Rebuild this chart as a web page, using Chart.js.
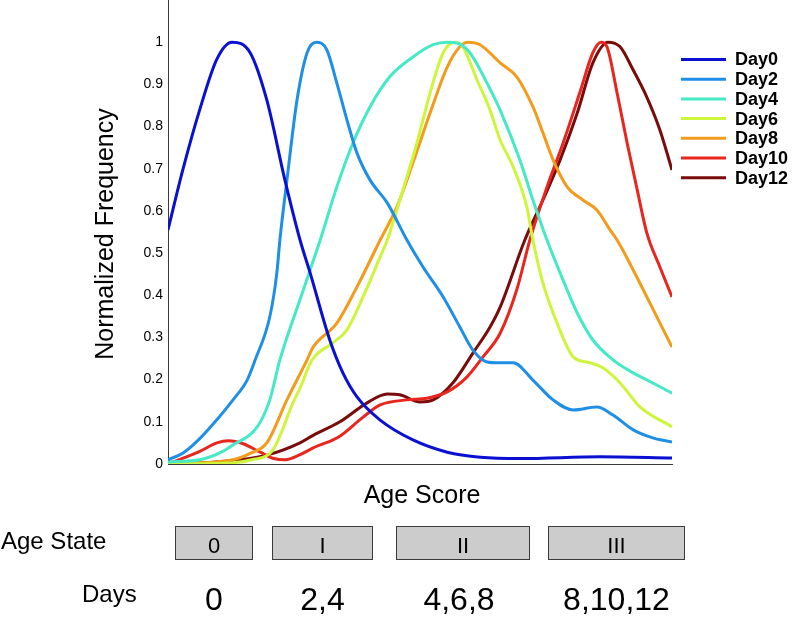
<!DOCTYPE html>
<html>
<head>
<meta charset="utf-8">
<title>Age score distributions</title>
<script src="https://cdn.jsdelivr.net/npm/chart.js@4.4.1/dist/chart.umd.min.js"></script>
<style>
  html, body { margin: 0; padding: 0; background: #fff; }
  #wrap { position: relative; width: 795px; height: 617px; }
</style>
</head>
<body>
<div id="wrap"><canvas id="ageChart" width="795" height="617"></canvas></div>
<script>
// series (age score 0..100, normalized frequency)
const day0X = [0, 3, 6.3, 9.7, 12.7, 16.3, 19.6, 23.2, 26.2, 28.2, 32.1, 34.7, 37.5, 42.1, 48.6, 55.4, 62, 70, 85.7, 100];
const day0Y = [0.555, 0.70, 0.84, 0.96, 1.0, 0.975, 0.863, 0.673, 0.531, 0.453, 0.294, 0.216, 0.159, 0.104, 0.057, 0.028, 0.016, 0.013, 0.017, 0.014];

const day2X = [0, 3, 6.3, 9.7, 12.9, 15.7, 17.3, 20.2, 21.6, 22.2, 23.6, 25.6, 27.6, 29.4, 31.5, 33.5, 35.5, 37.5, 40.1, 43.5, 47.4, 50.6, 54.6, 57.9, 60.5, 63.3, 65.9, 68.5, 72.4, 76.4, 80.4, 85.1, 88.3, 92.3, 96.2, 100];
const day2Y = [0.01, 0.026, 0.06, 0.105, 0.152, 0.199, 0.247, 0.349, 0.453, 0.531, 0.673, 0.863, 0.975, 1.0, 0.982, 0.903, 0.816, 0.737, 0.673, 0.619, 0.531, 0.467, 0.396, 0.325, 0.270, 0.242, 0.240, 0.240, 0.199, 0.152, 0.128, 0.135, 0.116, 0.081, 0.062, 0.052];

const day4X = [0, 6.3, 10.9, 12.9, 17.7, 20.2, 22.2, 26.2, 30.2, 33.5, 36.7, 40.1, 44.0, 48.6, 52.6, 55.4, 57.3, 59.9, 63.3, 65.9, 69.8, 72.4, 75.2, 77.8, 81.2, 84.3, 88.3, 92.3, 96.2, 100];
const day4Y = [0.005, 0.01, 0.03, 0.045, 0.088, 0.152, 0.247, 0.39, 0.531, 0.657, 0.761, 0.847, 0.918, 0.965, 0.994, 1.0, 0.998, 0.975, 0.903, 0.839, 0.721, 0.626, 0.531, 0.453, 0.358, 0.294, 0.247, 0.216, 0.192, 0.168];

const day6X = [0, 12.9, 16.6, 20.8, 24.8, 26.2, 28.6, 32.7, 35.5, 38.7, 42.1, 43.5, 46.0, 49.4, 52.0, 54.6, 56.9, 58.5, 61.3, 63.9, 65.9, 68.5, 71.2, 72.4, 74.4, 77.2, 80.4, 83.7, 86.3, 89.7, 93.7, 100];
const day6Y = [0, 0.003, 0.01, 0.033, 0.145, 0.18, 0.247, 0.287, 0.318, 0.396, 0.491, 0.531, 0.626, 0.761, 0.880, 0.975, 1.0, 0.989, 0.911, 0.839, 0.768, 0.704, 0.609, 0.531, 0.429, 0.334, 0.254, 0.240, 0.228, 0.192, 0.135, 0.088];

const day8X = [0, 12.9, 16.3, 19.6, 23.6, 27.6, 28.8, 33.5, 37.5, 42.1, 45.4, 48.6, 52.0, 55.4, 57.9, 59.5, 61.9, 65.9, 69.2, 72.4, 74.4, 76.4, 79.2, 82.3, 85.1, 87.7, 89.1, 92.3, 95.6, 100];
const day8Y = [0, 0.01, 0.025, 0.05, 0.152, 0.247, 0.277, 0.334, 0.420, 0.531, 0.609, 0.714, 0.832, 0.941, 0.989, 1.0, 0.994, 0.951, 0.918, 0.847, 0.785, 0.721, 0.657, 0.626, 0.602, 0.555, 0.531, 0.460, 0.382, 0.277];

const day10X = [0, 6.3, 9.7, 12.0, 14.9, 18.3, 21.0, 23.2, 26.2, 28.8, 34.1, 38.7, 42.1, 47.4, 51.4, 55.4, 59.3, 62.5, 65.9, 69.2, 71.8, 75.2, 78.4, 81.7, 84.3, 85.9, 87.1, 89.1, 91.1, 93.1, 95.0, 97.6, 100];
const day10Y = [0, 0.03, 0.05, 0.055, 0.048, 0.028, 0.013, 0.01, 0.022, 0.038, 0.066, 0.111, 0.140, 0.152, 0.156, 0.171, 0.206, 0.254, 0.310, 0.413, 0.531, 0.657, 0.761, 0.880, 0.975, 1.0, 0.989, 0.880, 0.761, 0.650, 0.548, 0.467, 0.396];

const day12X = [0, 9.7, 19.6, 26.2, 28.8, 34.1, 39.5, 43.5, 46.0, 50.0, 52.6, 56.5, 60.5, 63.9, 65.9, 70.8, 74.4, 77.8, 81.2, 84.3, 87.3, 89.7, 92.3, 95.0, 97.6, 100];
const day12Y = [0, 0.005, 0.021, 0.05, 0.068, 0.1, 0.145, 0.166, 0.164, 0.147, 0.152, 0.192, 0.263, 0.325, 0.372, 0.531, 0.626, 0.721, 0.832, 0.951, 1.0, 0.989, 0.934, 0.870, 0.792, 0.697];

const seriesNames = ['Day0', 'Day2', 'Day4', 'Day6', 'Day8', 'Day10', 'Day12'];
const seriesColors = ['#0a10d2', '#1f8fe6', '#46e9c6', '#cef53c', '#f29b1c', '#e8261e', '#7a0b0b'];

// age state bands below the axis (in age score units)
const stateLabels = ['0', 'I', 'II', 'III'];
const stateStart = [1.3, 20.7, 45.2, 75.3];
const stateEnd = [16.7, 40.5, 71.7, 102.4];
const stateDays = ['0', '2,4', '4,6,8', '8,10,12'];

const FONT = "'Liberation Sans', Arial, Helvetica, sans-serif";

function pts(xs, ys) {
    return xs.map((x, i) => ({ x: x, y: ys[i] }));
}

const allSeries = [
    pts(day0X, day0Y), pts(day2X, day2Y), pts(day4X, day4Y), pts(day6X, day6Y),
    pts(day8X, day8Y), pts(day10X, day10Y), pts(day12X, day12Y)
];

// legend on the right + the age state / days rows under the plot
const extrasPlugin = {
    id: 'extras',
    afterDraw(chart) {
        const ctx = chart.ctx;
        const xs = chart.scales.x;
        const area = chart.chartArea;
        ctx.save();

        // legend
        ctx.font = 'bold 18px ' + FONT;
        ctx.textBaseline = 'middle';
        ctx.textAlign = 'left';
        chart.data.datasets.forEach((ds, i) => {
            const y = 59.5 + i * 19.7;
            ctx.strokeStyle = ds.borderColor;
            ctx.lineWidth = 3;
            ctx.beginPath();
            ctx.moveTo(681, y);
            ctx.lineTo(726, y);
            ctx.stroke();
            ctx.fillStyle = '#000';
            ctx.fillText(ds.label, 735, y + 1);
        });

        // y title
        ctx.save();
        ctx.translate(113, (area.top + area.bottom) / 2 + 2);
        ctx.rotate(-Math.PI / 2);
        ctx.font = '25px ' + FONT;
        ctx.textAlign = 'center';
        ctx.textBaseline = 'alphabetic';
        ctx.fillText('Normalized Frequency', 0, 0);
        ctx.restore();

        // x title
        ctx.font = '25px ' + FONT;
        ctx.textAlign = 'center';
        ctx.textBaseline = 'alphabetic';
        ctx.fillStyle = '#000';
        ctx.fillText('Age Score', (area.left + area.right) / 2 + 2, 503);

        // row labels
        ctx.textAlign = 'left';
        ctx.font = '24px ' + FONT;
        ctx.fillText('Age State', 1, 549);
        ctx.fillText('Days', 82, 602);

        // state boxes
        stateLabels.forEach((lab, i) => {
            const x1 = Math.round(xs.getPixelForValue(stateStart[i])) + 0.5;
            const x2 = Math.round(xs.getPixelForValue(stateEnd[i])) + 0.5;
            ctx.fillStyle = '#cccccc';
            ctx.fillRect(x1, 526, x2 - x1, 33);
            ctx.strokeStyle = '#3a3a3a';
            ctx.lineWidth = 1;
            ctx.strokeRect(x1, 526.5, x2 - x1, 33);
            ctx.fillStyle = '#000';
            ctx.textAlign = 'center';
            ctx.font = '22px ' + FONT;
            ctx.fillText(lab, (x1 + x2) / 2, 553);
            ctx.font = '32px ' + FONT;
            ctx.fillText(stateDays[i], (x1 + x2) / 2 - (i === 2 ? 4 : 0), 610);
        });
        ctx.restore();
    }
};

new Chart(document.getElementById('ageChart'), {
    type: 'line',
    data: {
        datasets: allSeries.map((d, i) => ({
            label: seriesNames[i],
            data: d,
            borderColor: seriesColors[i],
            backgroundColor: seriesColors[i],
            borderWidth: 3,
            pointRadius: 0,
            fill: false,
            cubicInterpolationMode: 'monotone'
        }))
    },
    options: {
        responsive: false,
        devicePixelRatio: 1,
        animation: false,
        layout: { padding: { left: 0, top: 0, right: 123, bottom: 153 } },
        plugins: {
            legend: { display: false },
            tooltip: { enabled: false }
        },
        scales: {
            x: {
                type: 'linear',
                min: 0,
                max: 100,
                grid: { display: false, drawTicks: false },
                border: { display: true, color: '#3a3a3a', width: 1 },
                ticks: { display: false },
                afterFit: (scale) => {
                    scale.height = 0;
                    scale.paddingLeft = 0;
                    scale.paddingRight = 0;
                }
            },
            y: {
                min: 0,
                max: 1.1,
                grid: { display: false, drawTicks: false },
                border: { display: true, color: '#3a3a3a', width: 1 },
                ticks: {
                    stepSize: 0.1,
                    padding: 5,
                    color: '#000',
                    font: { family: FONT, size: 14 },
                    callback: (v) => String(Number(v.toFixed(1)))
                },
                afterBuildTicks: (scale) => {
                    scale.ticks = scale.ticks.filter(t => t.value <= 1.0001);
                },
                afterFit: (scale) => {
                    scale.width = 168;
                    scale.paddingTop = 0;
                    scale.paddingBottom = 0;
                }
            }
        }
    },
    plugins: [extrasPlugin]
});
</script>
</body>
</html>
